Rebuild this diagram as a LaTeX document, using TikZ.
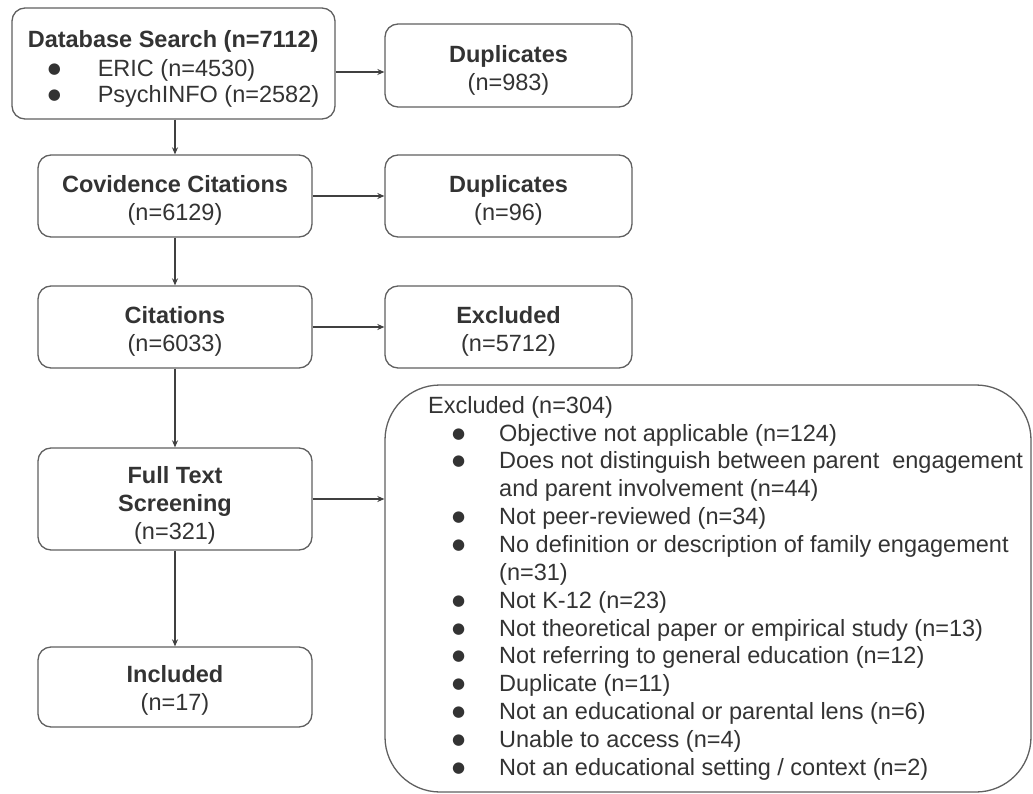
\documentclass[tikz,border=0pt]{standalone}
\usepackage{fontspec}
\setmainfont{Liberation Sans}
\newfontfamily\symfont{DejaVu Sans}
\usetikzlibrary{arrows.meta}
\definecolor{linegray}{HTML}{606060}
\definecolor{arrgray}{HTML}{404040}
\definecolor{txtgray}{HTML}{333333}
\newcommand{\bigdot}{\raisebox{3pt}{\symfont\fontsize{15}{15}\selectfont ●}}
\newcommand{\dbbullet}{\makebox[70pt][l]{\hspace*{20pt}\bigdot}}
\newcommand{\exbullet}{\makebox[71pt][l]{\hspace*{24pt}\bigdot}}
\newcommand{\exindent}{\hspace*{71pt}}
\begin{document}
\begin{tikzpicture}[x=1pt,y=-1pt,
  box/.style={draw=linegray, line width=1.3pt, rounded corners=13pt, inner sep=0pt,
    align=center, text=txtgray, font=\fontsize{23.5}{28}\selectfont},
  bigbox/.style={draw=linegray, line width=1.3pt, rounded corners=55pt, inner sep=0pt},
  listtext/.style={inner sep=0pt, align=left, text=txtgray, font=\fontsize{23.5}{27.85}\selectfont},
  arr/.style={draw=arrgray, line width=1.2pt, -{Stealth[length=7pt,width=6pt]}}]
\useasboundingbox (0,0) rectangle (1033,794);

\node[box, align=left, minimum width=323pt, minimum height=111pt] (db) at (173.5,63.5)
  {\rule{0pt}{27pt}\textbf{Database Search (n=7112)}\\[1pt]
   \dbbullet ERIC (n=4530)\\[-2pt]
   \dbbullet PsychINFO (n=2582)};
\node[box, minimum width=247pt, minimum height=83pt] (dupa) at (508.5,65.5)
  {\rule{0pt}{26pt}\textbf{Duplicates}\\(n=983)};
\node[box, minimum width=274pt, minimum height=82pt] (cov) at (175,196)
  {\rule{0pt}{25pt}\textbf{Covidence Citations}\\(n=6129)};
\node[box, minimum width=247pt, minimum height=82pt] (dupb) at (508.5,196)
  {\rule{0pt}{25pt}\textbf{Duplicates}\\(n=96)};
\node[box, minimum width=274pt, minimum height=82pt] (cit) at (175,327)
  {\rule{0pt}{25pt}\textbf{Citations}\\(n=6033)};
\node[box, minimum width=247pt, minimum height=82pt] (exa) at (508.5,327)
  {\rule{0pt}{25pt}\textbf{Excluded}\\(n=5712)};
\node[box, minimum width=274pt, minimum height=102pt] (full) at (175,499)
  {\rule{0pt}{30pt}\textbf{Full Text}\\\textbf{Screening}\\(n=321)};
\node[box, minimum width=274pt, minimum height=80pt] (incl) at (175,687)
  {\rule{0pt}{23pt}\textbf{Included}\\(n=17)};

\node[bigbox, minimum width=646pt, minimum height=407pt] (exb) at (708,588.5) {};
\node[listtext, anchor=north west] (exbtext) at (428,395)
  {\rule{0pt}{18pt}Excluded (n=304)\\
   \exbullet Objective not applicable (n=124)\\
   \exbullet Does not distinguish between parent\ \ engagement\\
   \exindent and parent involvement (n=44)\\
   \exbullet Not peer-reviewed (n=34)\\
   \exbullet No definition or description of family engagement\\
   \exindent (n=31)\\
   \exbullet Not K-12 (n=23)\\
   \exbullet Not theoretical paper or empirical study (n=13)\\
   \exbullet Not referring to general education (n=12)\\
   \exbullet Duplicate (n=11)\\
   \exbullet Not an educational or parental lens (n=6)\\
   \exbullet Unable to access (n=4)\\
   \exbullet Not an educational setting / context (n=2)};

\draw[arr] ([yshift=-8.5pt]db.east) -- ([yshift=-8.5pt]db.east -| dupa.west);
\draw[arr] (cov.north |- db.south) -- (cov.north);
\draw[arr] (cov.east) -- (dupb.west);
\draw[arr] (cov.south) -- (cit.north);
\draw[arr] (cit.east) -- (exa.west);
\draw[arr] (cit.south) -- (full.north);
\draw[arr] (full.east) -- (full.east -| exb.west);
\draw[arr] (full.south) -- (incl.north);
\end{tikzpicture}
\end{document}
